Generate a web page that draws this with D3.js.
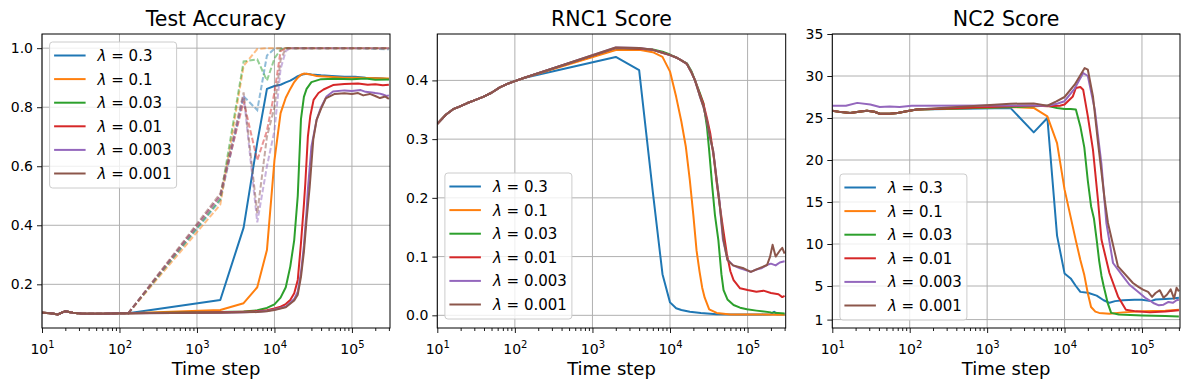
<!DOCTYPE html>
<html>
<head>
<meta charset="utf-8">
<script src="https://cdn.jsdelivr.net/npm/d3@7"></script>
<style>
  body { margin: 0; background: #fff; }
  svg text { font-family: "DejaVu Sans", sans-serif; fill: #000; }
</style>
</head>
<body>
<svg id="chart" width="1189" height="390"></svg>
<script>
// ---- data ----
const lambdas = ["0.3", "0.1", "0.03", "0.01", "0.003", "0.001"];
const colors = ["#1f77b4", "#ff7f0e", "#2ca02c", "#d62728", "#9467bd", "#8c564b"];
const xDecades = [10, 100, 1000, 10000, 100000];

// early steps are shared by all runs (the curves overlap there)
const accStart = [[10,.104],[13,.102],[16,.098],[20,.109],[25,.104],[32,.101],[40,.1],[50,.1],[63,.1],[80,.101],[100,.102],[130,.102]];
const rncStart = [[10,.326],[13,.342],[16,.351],[19,.355],[24,.361],[30,.366],[39,.372],[50,.379],[64,.388],[80,.394],[96,.398],[130,.404]];
const nc2Start = [[10,25.87],[13,25.7],[17,25.6],[22,25.75],[28,25.87],[35,25.75],[41,25.5],[55,25.5],[70,25.6],[91,25.8],[123,26.0]];

const testAcc = [
  accStart.concat([[2000,.147],[4000,.392],[6000,.68],[8000,.862],[10000,.872],[12000,.876],[14000,.884],[16000,.89],[18000,.898],[20000,.905],[23000,.911],[26000,.913],[30000,.911],[40000,.908],[55000,.906],[80000,.903],[110000,.903],[150000,.9],[200000,.899],[250000,.897],[300000,.895]]),
  accStart.concat([[2000,.113],[4000,.136],[6000,.19],[8000,.316],[10000,.62],[12000,.78],[14000,.832],[16000,.862],[18000,.885],[20000,.9],[22000,.91],[24000,.914],[28000,.912],[35000,.906],[50000,.903],[80000,.9],[120000,.9],[200000,.898],[300000,.897]]),
  accStart.concat([[2000,.106],[4000,.108],[6000,.112],[8000,.12],[10000,.132],[12000,.155],[14000,.19],[16000,.26],[18000,.35],[20000,.5],[22000,.76],[24000,.835],[26000,.862],[30000,.885],[40000,.895],[60000,.896],[100000,.895],[150000,.897],[200000,.893],[300000,.894]]),
  accStart.concat([[2000,.105],[4000,.107],[6000,.109],[8000,.112],[10000,.118],[12000,.124],[14000,.133],[16000,.147],[18000,.17],[20000,.215],[22000,.34],[24000,.47],[25000,.54],[27000,.7],[29000,.77],[32000,.825],[37000,.848],[43000,.86],[57000,.875],[80000,.879],[120000,.88],[160000,.876],[200000,.878],[250000,.874],[300000,.876]]),
  accStart.concat([[2000,.104],[4000,.105],[6000,.107],[8000,.11],[10000,.115],[14000,.124],[18000,.15],[20000,.175],[22000,.24],[24000,.33],[26000,.45],[27000,.52],[30000,.666],[35000,.757],[40000,.8],[47000,.836],[57000,.853],[80000,.857],[100000,.855],[130000,.858],[150000,.852],[180000,.85],[200000,.848],[230000,.846],[250000,.843],[280000,.838],[300000,.84]]),
  accStart.concat([[2000,.104],[4000,.105],[6000,.106],[8000,.109],[10000,.113],[14000,.122],[18000,.145],[20000,.165],[22000,.225],[24000,.31],[26000,.42],[28500,.53],[31700,.69],[35000,.757],[40000,.795],[46000,.83],[60000,.845],[80000,.847],[100000,.845],[120000,.848],[140000,.84],[170000,.845],[200000,.838],[230000,.831],[270000,.836],[300000,.828]])
];

const trainAcc = [
  accStart.concat([[2000,.485],[4000,.837],[6000,.79],[8000,.975],[10000,.998],[12000,1],[100000,1],[200000,.998],[300000,.996]]),
  accStart.concat([[2000,.47],[4000,.94],[6000,.997],[8000,1],[300000,1]]),
  accStart.concat([[2000,.49],[4000,.955],[6000,.962],[8000,.89],[10000,.965],[12000,.995],[14000,1],[300000,1]]),
  accStart.concat([[2000,.5],[4000,.82],[6000,.62],[8000,.72],[10000,.85],[12000,.99],[14000,1],[300000,1]]),
  accStart.concat([[2000,.5],[4000,.84],[6000,.41],[8000,.6],[10000,.72],[12000,.93],[14000,.99],[16000,1],[300000,1]]),
  accStart.concat([[2000,.508],[4000,.85],[6000,.44],[8000,.7],[10000,.8],[12000,.96],[14000,1],[300000,1]])
];

const rnc1 = [
  rncStart.concat([[2000,.44],[4000,.4175],[6000,.21],[8000,.07],[10000,.022],[12000,.012],[14000,.009],[18000,.006],[25000,.004],[40000,.002],[80000,.0015],[150000,.0015],[200000,.002],[220000,.006],[240000,.002],[300000,.002]]),
  rncStart.concat([[2000,.4516],[4000,.452],[6000,.448],[8000,.44],[10000,.415],[12000,.372],[14000,.33],[16000,.287],[18000,.23],[20000,.17],[22000,.11],[24000,.075],[26000,.047],[28000,.03],[32000,.01],[40000,.004],[60000,.0015],[300000,.001]]),
  rncStart.concat([[2000,.455],[4000,.454],[6000,.4528],[8000,.449],[10000,.444],[12000,.439],[14000,.434],[16500,.429],[19000,.415],[21000,.4],[24000,.38],[27000,.361],[30000,.32],[32000,.28],[35000,.22],[38000,.17],[42000,.128],[46000,.07],[49000,.043],[55000,.027],[66000,.0175],[80000,.013],[98000,.0102],[130000,.008],[200000,.005],[300000,.003]]),
  rncStart.concat([[2000,.455],[4000,.454],[6000,.452],[8000,.447],[10000,.443],[12000,.439],[14000,.434],[16500,.428],[19000,.413],[21000,.4],[24000,.378],[27000,.36],[30000,.335],[33000,.31],[37000,.265],[40000,.225],[43000,.195],[48000,.15],[54000,.105],[60000,.075],[66000,.06],[80000,.046],[100000,.043],[130000,.04],[160000,.042],[200000,.038],[250000,.036],[280000,.031],[300000,.033]]),
  rncStart.concat([[2000,.456],[4000,.455],[6000,.452],[8000,.447],[10000,.443],[12000,.439],[14000,.434],[16500,.428],[19000,.413],[21000,.4],[24000,.375],[27000,.355],[30000,.33],[33000,.3],[36000,.28],[40000,.23],[43000,.2],[48000,.13],[55000,.095],[65000,.085],[80000,.08],[90000,.078],[110000,.074],[130000,.078],[150000,.08],[180000,.086],[200000,.088],[230000,.085],[260000,.09],[300000,.092]]),
  rncStart.concat([[2000,.456],[4000,.455],[6000,.452],[8000,.447],[10000,.443],[12000,.439],[14000,.434],[16500,.428],[19000,.413],[21000,.4],[24000,.375],[27000,.355],[30000,.33],[33000,.302],[36000,.28],[40000,.23],[43000,.196],[49000,.128],[55000,.094],[65000,.085],[89000,.08],[110000,.074],[140000,.08],[178000,.0856],[195000,.1],[210000,.12],[230000,.1],[260000,.11],[280000,.115],[300000,.105]])
];

const nc2 = [
  nc2Start.concat([[2000,26.2],[4000,23.29],[6000,25.0],[8000,11.0],[10000,6.5],[12000,5.9],[14000,5.0],[16000,4.3],[20000,4.2],[26000,3.85],[32000,3.3],[38000,3.0],[45000,3.2],[57000,3.3],[80000,3.35],[100000,3.35],[130000,3.2],[150000,3.4],[200000,3.45],[250000,3.5],[300000,3.6]]),
  nc2Start.concat([[2000,26.3],[4000,26.2],[6000,25.2],[8000,22.0],[10000,16.5],[12000,13.2],[14000,10.4],[16000,8.1],[18000,6.3],[20000,4.1],[22000,2.5],[25000,1.95],[28000,1.8],[38000,1.7],[57000,1.86],[100000,1.98],[200000,2.05],[300000,2.18]]),
  nc2Start.concat([[2000,26.3],[4000,26.4],[6000,26.46],[8000,26.2],[10000,26.07],[12000,26.07],[14000,26.0],[16000,24.0],[18000,21.5],[20000,17.5],[22000,14.5],[24000,13.0],[26000,10.5],[28000,8.0],[30000,6.2],[32000,5.0],[34000,4.0],[36000,3.0],[40000,1.8],[50000,1.6],[100000,1.5],[200000,1.42],[300000,1.38]]),
  nc2Start.concat([[2000,26.4],[4000,26.5],[6000,26.4],[8700,26.46],[10000,26.6],[12800,27.57],[14000,28.57],[16000,28.7],[17400,28.37],[20000,25.2],[23300,21.2],[27000,15.27],[30000,10.5],[38000,6.55],[49000,3.76],[62000,2.18],[84000,1.98],[127000,1.86],[200000,1.95],[300000,2.1]]),
  [[10,26.46],[15,26.46],[21,26.8],[31,26.6],[41,26.3],[55,26.38],[74,26.3],[106,26.46],[2000,26.5],[4000,26.5],[6000,26.46],[8000,26.7],[10000,27.0],[13500,28.5],[17400,30.36],[20000,30.0],[24600,26.0],[29900,19.6],[34700,12.5],[42300,7.74],[57000,6.14],[69000,5.15],[93000,4.17],[110000,3.6],[125000,3.3],[140000,2.98],[165000,2.7],[190000,2.77],[220000,3.1],[250000,3.0],[280000,3.3],[300000,3.37]],
  nc2Start.concat([[2000,26.7],[4000,26.74],[6000,26.46],[7850,26.98],[10000,27.5],[13500,28.96],[18200,30.95],[20000,30.75],[23300,27.57],[27100,22.0],[33000,15.27],[36400,12.5],[49000,7.33],[76500,5.36],[90000,4.9],[103000,4.56],[120000,4.3],[135000,3.7],[150000,4.17],[170000,4.5],[190000,3.6],[210000,3.96],[235000,4.6],[260000,3.5],[280000,4.8],[300000,4.36]])
];

// ---- layout ----
const plotTop = 34, plotBottom = 328;
const panels = [
  { title: "Test Accuracy", left: 42, right: 390, yDomain: [0.052, 1.048], yTicks: [0.2, 0.4, 0.6, 0.8, 1.0], fmt: d3.format(".1f"), solid: testAcc, dashed: trainAcc, legendTop: 42 },
  { title: "RNC1 Score", left: 437.3, right: 785.7, yDomain: [-0.0216, 0.479], yTicks: [0, 0.1, 0.2, 0.3, 0.4], fmt: d3.format(".1f"), solid: rnc1, legendTop: 173 },
  { title: "NC2 Score", left: 832.3, right: 1180, yDomain: [0, 35], yTicks: [1, 5, 10, 15, 20, 25, 30, 35], fmt: d3.format("d"), solid: nc2, legendTop: 174 }
];

const svg = d3.select("#chart");
const minors = [];
xDecades.forEach(d => { for (let k = 2; k <= 9; k++) if (d * k <= 3.1e5) minors.push(d * k); });

panels.forEach((p, i) => {
  const x = d3.scaleLog().domain([10, 3.1e5]).range([p.left, p.right]);
  const y = d3.scaleLinear().domain(p.yDomain).range([plotBottom, plotTop]);
  const g = svg.append("g");

  // grid
  g.selectAll(".vgrid").data(xDecades).join("line")
    .attr("x1", d => x(d)).attr("x2", d => x(d)).attr("y1", plotTop).attr("y2", plotBottom)
    .attr("stroke", "#b0b0b0").attr("stroke-width", 1);
  g.selectAll(".hgrid").data(p.yTicks).join("line")
    .attr("x1", p.left).attr("x2", p.right).attr("y1", d => y(d)).attr("y2", d => y(d))
    .attr("stroke", "#b0b0b0").attr("stroke-width", 1);

  // clip
  svg.append("clipPath").attr("id", "clip" + i).append("rect")
    .attr("x", p.left).attr("y", plotTop).attr("width", p.right - p.left).attr("height", plotBottom - plotTop);
  const plot = g.append("g").attr("clip-path", "url(#clip" + i + ")");
  const line = d3.line().x(d => x(d[0])).y(d => y(d[1]));

  p.solid.forEach((s, k) => {
    plot.append("path").attr("d", line(s)).attr("fill", "none")
      .attr("stroke", colors[k]).attr("stroke-width", 2).attr("stroke-linejoin", "round");
    if (p.dashed) {
      plot.append("path").attr("d", line(p.dashed[k])).attr("fill", "none")
        .attr("stroke", colors[k]).attr("stroke-opacity", 0.5).attr("stroke-width", 2)
        .attr("stroke-dasharray", "5.5,2.4");
    }
  });

  // axes
  const xAxis = g.append("g").attr("transform", `translate(0,${plotBottom})`)
    .call(d3.axisBottom(x).tickValues(xDecades).tickSize(5).tickSizeOuter(0).tickPadding(4).tickFormat(""));
  xAxis.select(".domain").remove();
  xAxis.selectAll(".tick text").each(function (d) {
    const t = d3.select(this).attr("font-size", 14).attr("dy", "1.2em");
    t.append("tspan").text("10");
    t.append("tspan").attr("font-size", 10).attr("dy", -5.5).text(Math.round(Math.log10(d)));
  });
  const xMinor = g.append("g").attr("transform", `translate(0,${plotBottom})`)
    .call(d3.axisBottom(x).tickValues(minors).tickSize(3).tickSizeOuter(0).tickFormat(""));
  xMinor.select(".domain").remove();

  const yAxis = g.append("g").attr("transform", `translate(${p.left},0)`)
    .call(d3.axisLeft(y).tickValues(p.yTicks).tickSize(5).tickSizeOuter(0).tickPadding(4).tickFormat(p.fmt));
  yAxis.select(".domain").remove();
  yAxis.selectAll(".tick text").attr("font-size", 14).attr("font-family", "DejaVu Sans");
  g.selectAll(".tick line").attr("stroke", "#000").attr("stroke-width", 0.9);

  // spines
  g.append("rect").attr("x", p.left).attr("y", plotTop).attr("width", p.right - p.left).attr("height", plotBottom - plotTop)
    .attr("fill", "none").attr("stroke", "#000").attr("stroke-width", 1);

  // title and label
  const cx = (p.left + p.right) / 2;
  g.append("text").attr("x", cx).attr("y", 26).attr("text-anchor", "middle").attr("font-size", 20.5).text(p.title);
  g.append("text").attr("x", cx).attr("y", 375).attr("text-anchor", "middle").attr("font-size", 18).text("Time step");

  // legend
  const lx = p.left + 7.6, ly = p.legendTop;
  const leg = g.append("g");
  leg.append("rect").attr("x", lx).attr("y", ly).attr("width", 127).attr("height", 146).attr("rx", 3)
    .attr("fill", "#fff").attr("fill-opacity", 0.8).attr("stroke", "#cccccc").attr("stroke-width", 1);
  lambdas.forEach((lam, k) => {
    const ry = ly + 13.5 + k * 23.6;
    leg.append("line").attr("x1", lx + 4.5).attr("x2", lx + 36).attr("y1", ry).attr("y2", ry)
      .attr("stroke", colors[k]).attr("stroke-width", 2);
    const t = leg.append("text").attr("x", lx + 48).attr("y", ry + 5.5).attr("font-size", 15);
    t.append("tspan").attr("font-style", "italic").text("λ");
    t.append("tspan").text(" = " + lam);
  });
});
</script>
</body>
</html>
